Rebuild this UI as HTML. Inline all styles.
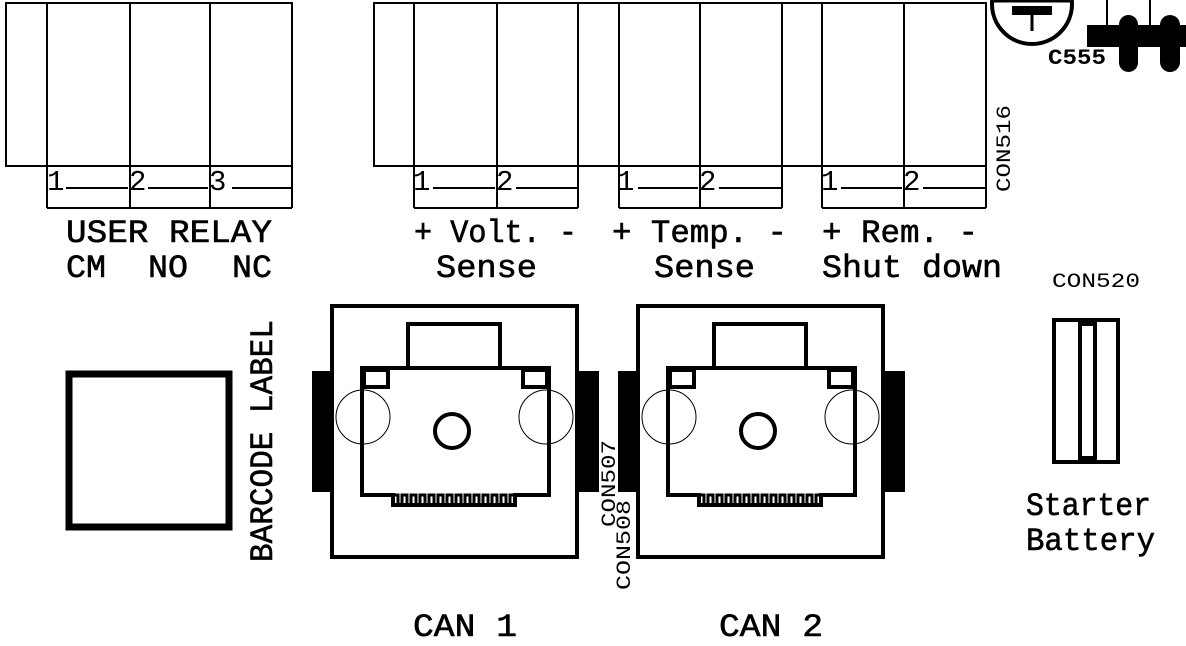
<!DOCTYPE html>
<html><head><meta charset="utf-8"><style>
html,body{margin:0;padding:0;background:#fff;width:1186px;height:646px;overflow:hidden}
svg{display:block}
text{font-family:"Liberation Mono","DejaVu Sans Mono",monospace;fill:#000}
</style></head><body>
<svg width="1186" height="646" viewBox="0 0 1186 646" xmlns="http://www.w3.org/2000/svg">
<g fill="none" stroke="#000" stroke-width="2">
<rect x="6" y="3" width="286" height="163"/>
<line x1="47" y1="3" x2="47" y2="208"/><line x1="130" y1="3" x2="130" y2="208"/><line x1="210" y1="3" x2="210" y2="208"/><line x1="292" y1="166" x2="292" y2="208"/>
<line x1="47" y1="208" x2="292" y2="208"/>
<line x1="66" y1="188" x2="128" y2="188"/><line x1="148" y1="188" x2="208" y2="188"/><line x1="232" y1="188" x2="292" y2="188"/>
<rect x="374" y="3" width="612" height="163"/>
<line x1="414" y1="3" x2="414" y2="208"/><line x1="497" y1="3" x2="497" y2="208"/><line x1="578" y1="3" x2="578" y2="208"/>
<line x1="619" y1="3" x2="619" y2="208"/><line x1="700" y1="3" x2="700" y2="208"/><line x1="782" y1="3" x2="782" y2="208"/>
<line x1="822" y1="3" x2="822" y2="208"/><line x1="904" y1="3" x2="904" y2="208"/><line x1="986" y1="166" x2="986" y2="208"/>
<line x1="414" y1="208" x2="578" y2="208"/><line x1="619" y1="208" x2="782" y2="208"/><line x1="822" y1="208" x2="986" y2="208"/>
<line x1="433" y1="188" x2="495" y2="188"/><line x1="516" y1="188" x2="578" y2="188"/>
<line x1="638" y1="188" x2="698" y2="188"/><line x1="719" y1="188" x2="782" y2="188"/>
<line x1="841" y1="188" x2="902" y2="188"/><line x1="923" y1="188" x2="986" y2="188"/>
</g>
<g font-size="29">
<text x="47" y="190">1</text><text x="129" y="190">2</text><text x="209" y="190">3</text>
<text x="413" y="190">1</text><text x="496" y="190">2</text>
<text x="617" y="190">1</text><text x="699" y="190">2</text>
<text x="821" y="190">1</text><text x="903" y="190">2</text>
</g>
<g font-size="32" stroke="#000" stroke-width="0.6">
<text x="66" y="242" textLength="206" lengthAdjust="spacingAndGlyphs">USER RELAY</text>
<text x="66" y="277" textLength="40" lengthAdjust="spacingAndGlyphs">CM</text>
<text x="148" y="277" textLength="40" lengthAdjust="spacingAndGlyphs">NO</text>
<text x="232" y="277" textLength="40" lengthAdjust="spacingAndGlyphs">NC</text>
<text x="414" y="242" textLength="163" lengthAdjust="spacingAndGlyphs">+ Volt. -</text>
<text x="436" y="277" textLength="101" lengthAdjust="spacingAndGlyphs">Sense</text>
<text x="612" y="242" textLength="175" lengthAdjust="spacingAndGlyphs">+ Temp. -</text>
<text x="654" y="277" textLength="101" lengthAdjust="spacingAndGlyphs">Sense</text>
<text x="822" y="242" textLength="156" lengthAdjust="spacingAndGlyphs">+ Rem. -</text>
<text x="822" y="277" textLength="180" lengthAdjust="spacingAndGlyphs">Shut down</text>
<text x="1026" y="515" textLength="125" lengthAdjust="spacingAndGlyphs">Starter</text>
<text x="1026" y="550" textLength="129" lengthAdjust="spacingAndGlyphs">Battery</text>
<text x="413" y="636" textLength="104" lengthAdjust="spacingAndGlyphs">CAN 1</text>
<text x="719" y="636" textLength="104" lengthAdjust="spacingAndGlyphs">CAN 2</text>
<text transform="translate(272,562) rotate(-90)" textLength="242" lengthAdjust="spacingAndGlyphs">BARCODE LABEL</text>
</g>
<g font-size="20">
<text transform="translate(1010,192) rotate(-90)" textLength="87" lengthAdjust="spacingAndGlyphs">CON516</text>
<text x="1052" y="287" textLength="88" lengthAdjust="spacingAndGlyphs">CON520</text>
<text transform="translate(615,527) rotate(-90)" textLength="87" lengthAdjust="spacingAndGlyphs">CON507</text>
<text transform="translate(630,590) rotate(-90)" textLength="90" lengthAdjust="spacingAndGlyphs">CON508</text>
</g>
<text x="1048" y="64" font-size="22" font-weight="bold" textLength="58" lengthAdjust="spacingAndGlyphs">C555</text>
<circle cx="1032" cy="4" r="40" fill="none" stroke="#000" stroke-width="4"/>
<line x1="992" y1="1" x2="1072" y2="1" stroke="#000" stroke-width="3"/>
<rect x="1012" y="6" width="40" height="9" fill="#000"/>
<line x1="1032" y1="15" x2="1032" y2="31" stroke="#000" stroke-width="3"/>
<line x1="1107" y1="0" x2="1107" y2="25" stroke="#000" stroke-width="2"/>
<line x1="1150" y1="0" x2="1150" y2="25" stroke="#000" stroke-width="2"/>
<rect x="1087" y="25" width="99" height="22" fill="#000"/>
<rect x="1119" y="15" width="19" height="57" rx="9.5" fill="#000"/>
<rect x="1160" y="15" width="20" height="57" rx="10" fill="#000"/>
<rect x="69" y="374" width="160" height="153" fill="none" stroke="#000" stroke-width="7"/>
<g id="can">
<rect x="312" y="371" width="18" height="121" fill="#000"/>
<rect x="578" y="371" width="21" height="121" fill="#000"/>
<rect x="332" y="306" width="245" height="251" fill="none" stroke="#000" stroke-width="4"/>
<rect x="408" y="324" width="92" height="44" fill="none" stroke="#000" stroke-width="4"/>
<path d="M362,368 H549 V495 H515 V505 H393 V495 H362 Z" fill="none" stroke="#000" stroke-width="4"/>
<path d="M393,495 H398 V505 M402,505 V495 H407 V505 M411,505 V495 H416 V505 M420,505 V495 H425 V505 M429,505 V495 H434 V505 M438,505 V495 H443 V505 M447,505 V495 H452 V505 M456,505 V495 H461 V505 M465,505 V495 H470 V505 M474,505 V495 H479 V505 M483,505 V495 H488 V505 M492,505 V495 H497 V505 M501,505 V495 H506 V505 M510,505 V495 H515" fill="none" stroke="#000" stroke-width="3"/>
<rect x="364" y="370" width="24" height="17" fill="none" stroke="#000" stroke-width="4"/>
<rect x="523" y="370" width="24" height="17" fill="none" stroke="#000" stroke-width="4"/>
<circle cx="363" cy="417" r="27" fill="none" stroke="#000" stroke-width="1"/>
<circle cx="546" cy="417" r="27" fill="none" stroke="#000" stroke-width="1"/>
<circle cx="452" cy="431" r="17" fill="none" stroke="#000" stroke-width="4"/>
</g>
<use href="#can" transform="translate(306,0)"/>
<rect x="1054" y="320" width="64" height="142" fill="none" stroke="#000" stroke-width="4"/>
<rect x="1080" y="324" width="15" height="134" fill="none" stroke="#000" stroke-width="4"/>
</svg>
</body></html>
